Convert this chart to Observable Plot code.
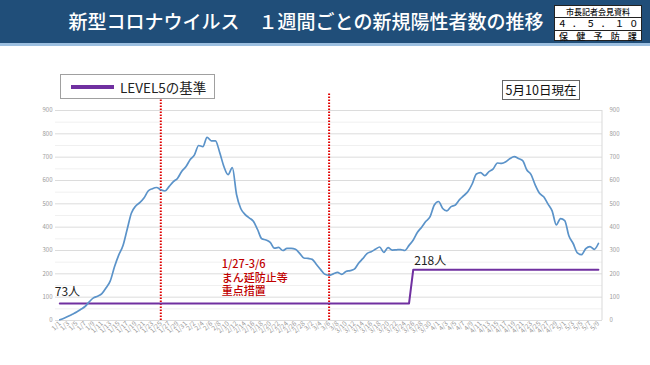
<!DOCTYPE html>
<html><head><meta charset="utf-8">
<script src="https://cdn.jsdelivr.net/npm/d3@7"></script>
<script src="https://cdn.jsdelivr.net/npm/@observablehq/plot@0.6"></script>
<style>
body{margin:0;width:650px;height:365px;overflow:hidden;background:#fff;position:relative;font-family:"Noto Sans CJK JP","Noto Sans",sans-serif}
#bar{position:absolute;left:0;top:0;width:650px;height:43px;background:#204e79;border-bottom:3px solid #9cbfe0}
#title{position:absolute;left:0;width:612px;top:7px;text-align:center;color:#fff;font-size:19px;font-weight:500;white-space:nowrap}
#badge{position:absolute;left:554px;top:5px;width:88px;height:36px;background:#fff;border:1px solid #222;box-sizing:border-box;color:#111}
#badge div{height:11.3px;line-height:11.3px;font-size:8px;display:flex;justify-content:space-around;border-bottom:1px solid #222;font-weight:500}
#badge div.big{font-size:9px}
#badge div:last-child{border-bottom:none}
#chart{position:absolute;left:0;top:47px}
#legend{position:absolute;left:60px;top:74px;width:155px;height:25px;border:1px solid #a0a0a0;box-sizing:border-box;background:#fff}
#legend .sw{position:absolute;left:10px;top:10px;width:43px;height:3.5px;background:#7030a0}
#legend .lt{position:absolute;left:59px;top:2px;font-size:13.5px;color:#222;white-space:nowrap}
#asof{position:absolute;left:502px;top:80px;width:78px;height:20px;border:1px solid #666;box-sizing:border-box;background:#fff;font-size:12.5px;line-height:18px;text-align:center;color:#111;white-space:nowrap}
</style></head>
<body>
<div id="bar"></div>
<div id="title">新型コロナウイルス　１週間ごとの新規陽性者数の推移</div>
<div id="badge"><div><span>市長記者会見資料</span></div><div class="big"><span>４</span><span>．</span><span>５</span><span>．</span><span>１</span><span>０</span></div><div class="big"><span>保</span><span>健</span><span>予</span><span>防</span><span>課</span></div></div>
<div id="chart"></div>
<div id="legend"><div class="sw"></div><div class="lt">LEVEL5の基準</div></div>
<div id="asof">5月10日現在</div>
<script>
// ---- data ----
const startDate = "2022-01-01"; // first day on axis, one point per day up to 5/9
const weeklyCases = [
  3,10,18,27,36,48,60,80,97,104,
  115,140,170,230,280,320,390,460,490,505,
  525,555,565,570,560,555,575,595,610,640,
  660,690,710,750,745,785,770,770,720,660,
  625,655,540,480,455,440,425,390,350,345,
  335,310,313,300,309,309,305,288,268,266,
  262,240,218,198,194,200,206,198,210,214,
  220,245,265,287,295,305,315,292,312,302,
  303,304,300,322,345,378,400,425,445,495,
  510,480,470,488,495,518,535,553,585,628,
  634,621,638,650,675,673,680,694,702,694,
  685,645,625,580,545,530,500,470,410,437,
  428,362,330,290,282,308,317,305,330
];
const level5Dates = ["2022-01-01","2022-03-25","2022-03-26","2022-05-09"];
const level5Values = [73,73,218,218];
const measureDates = ["2022-01-25","2022-03-06"];
const measureLabel = "1/27-3/6\nまん延防止等\n重点措置";
const yTicks = [0,100,200,300,400,500,600,700,800,900];

// ---- build ----
const day = 864e5;
const t0 = new Date(startDate + "T00:00:00Z");
const dates = weeklyCases.map((_, i) => new Date(t0.getTime() + i * day));
const series = dates.map((d, i) => ({date: d, value: weeklyCases[i]}));
const level5 = level5Dates.map((d, i) => ({date: new Date(d + "T00:00:00Z"), value: level5Values[i]}));
const measures = measureDates.map(d => new Date(d + "T00:00:00Z"));
const tickDates = dates.filter((_, i) => i % 2 === 0);
const fmt = d => `${d.getUTCMonth() + 1}/${d.getUTCDate()}`;
const minorTicks = d3.range(50, 900, 100);
const FONT = "'Noto Sans CJK JP','Noto Sans',sans-serif";

const rightEdge = (index, scales, values, dims) => {
  const g = document.createElementNS("http://www.w3.org/2000/svg", "line");
  const xr = dims.width - dims.marginRight;
  g.setAttribute("x1", xr); g.setAttribute("x2", xr);
  g.setAttribute("y1", dims.marginTop); g.setAttribute("y2", dims.height - dims.marginBottom);
  g.setAttribute("stroke", "#d9d9d9");
  return g;
};

const chart = Plot.plot({
  width: 650, height: 318,
  marginTop: 63, marginBottom: 45, marginLeft: 55, marginRight: 48,
  x: {type: "utc", domain: [dates[0], dates[dates.length - 1]], range: [59.3, 597.9]},
  y: {domain: [0, 900]},
  style: {fontFamily: FONT, background: "transparent", overflow: "visible"},
  marks: [
    Plot.gridY(minorTicks, {stroke: "#f0f0f0", strokeOpacity: 1}),
    Plot.gridY(yTicks, {stroke: "#dcdcdc", strokeOpacity: 1}),
    rightEdge,
    Plot.axisY(yTicks, {anchor: "left", tickSize: 0, tickPadding: 3, fontSize: 6, fill: "#9a9a9a", label: null}),
    Plot.axisY(yTicks, {anchor: "right", tickSize: 0, tickPadding: 7, fontSize: 6, fill: "#9a9a9a", label: null}),
    Plot.axisX(tickDates, {tickFormat: fmt, tickRotate: -45, tickSize: 0, tickPadding: 2, fontSize: 6.6, fill: "#9a9a9a", label: null}),
    Plot.ruleX(measures, {y1: 0, y2: 973, stroke: "#e00000", strokeWidth: 2, strokeDasharray: "1.6,1.4"}),
    Plot.line(level5, {x: "date", y: "value", stroke: "#7030a0", strokeWidth: 2}),
    Plot.line(series, {x: "date", y: "value", stroke: "#5b93c9", strokeWidth: 1.7, curve: "monotone-x"}),
    Plot.text([level5[0]], {x: "date", y: "value", text: d => `${d.value}人`, textAnchor: "start", dx: -5, dy: -11, fontSize: 12, fill: "#222"}),
    Plot.text([level5[2]], {x: "date", y: "value", text: d => `${d.value}人`, textAnchor: "start", dx: 1, dy: -8, fontSize: 12, fill: "#222"}),
    Plot.text([{date: measures[0], value: 266}], {x: "date", y: "value", text: () => measureLabel, textAnchor: "start", lineAnchor: "top", lineHeight: 1.23, dx: 61, fontSize: 11, fontWeight: 500, fill: "#c00000"})
  ]
});
document.getElementById("chart").appendChild(chart);
</script>
</body></html>
